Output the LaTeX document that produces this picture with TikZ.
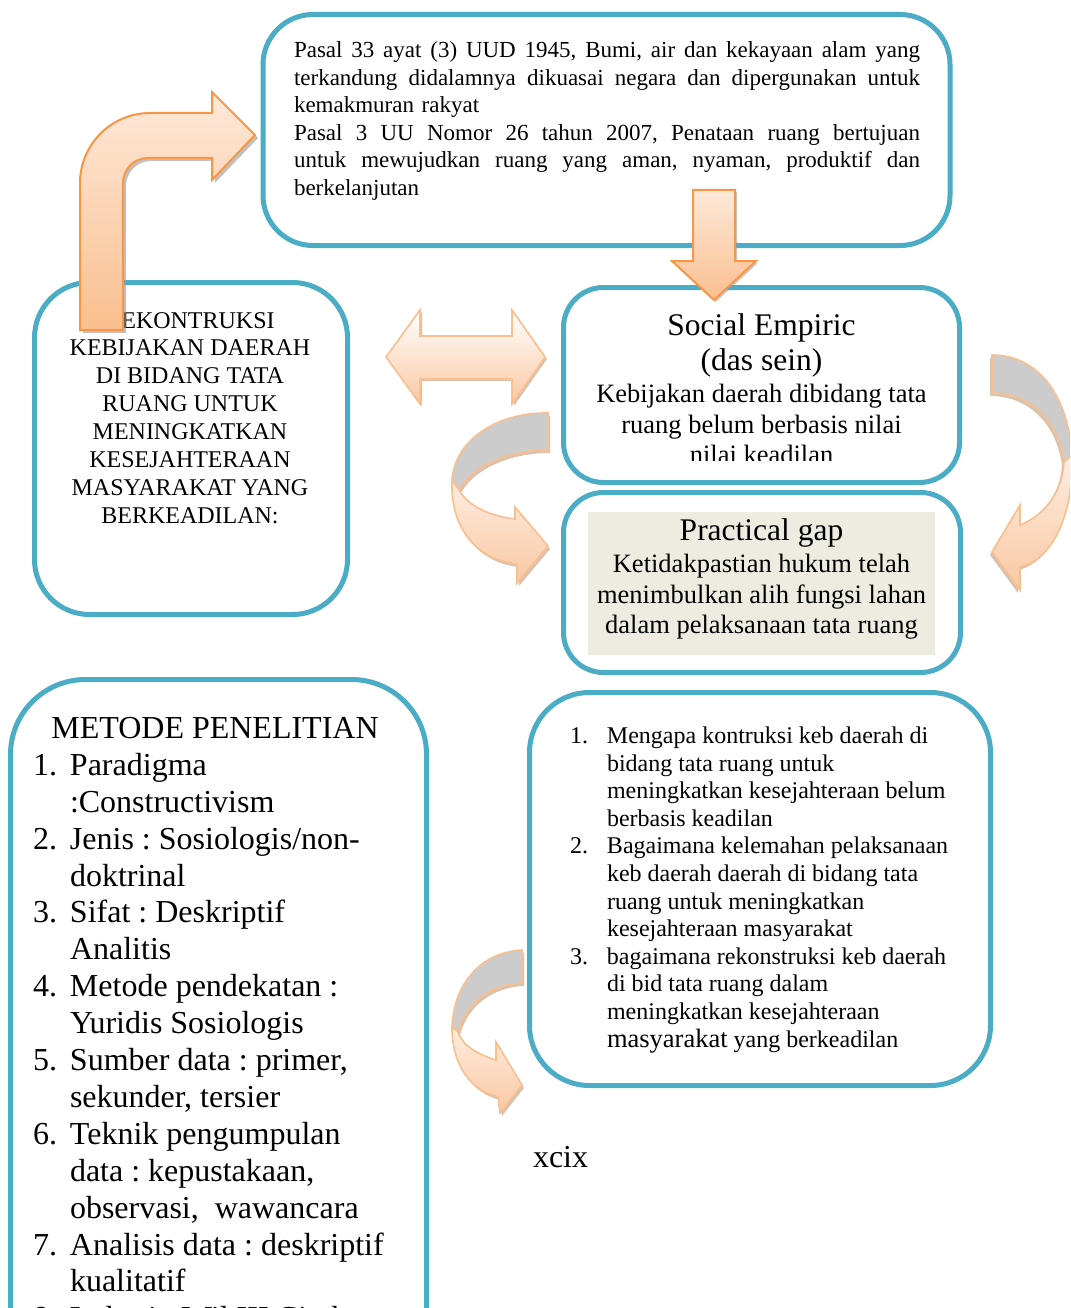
\documentclass[tikz,border=0pt]{standalone}
\usepackage{fontspec}
\setmainfont{Liberation Serif}
\definecolor{boxteal}{HTML}{4BACC6}
\definecolor{orangeline}{HTML}{F79646}
\definecolor{softline}{HTML}{F9BF8F}
\definecolor{peachtop}{HTML}{FDE9D9}
\definecolor{peachbot}{HTML}{FABF8F}
\definecolor{ribbontop}{HTML}{FDEDE1}
\definecolor{ribbonbot}{HTML}{F9C8A2}
\definecolor{ribbonback}{HTML}{CCCCCC}
\definecolor{gapfill}{HTML}{EEECE1}
\definecolor{dropshadow}{HTML}{B89070}
\newcommand\qnum[1]{\makebox[37pt][l]{#1}}
\newcommand\qind{\hspace*{37pt}}
% a justified line: every interword space stretches equally to fill the width
\newcommand\jline[2]{\makebox[#1][s]{\spaceskip=\fontdimen2\font plus 1fil\relax #2}}
\frenchspacing
\begin{document}
\frenchspacing
\begin{tikzpicture}[x=1pt,y=-1pt,
  frame/.style={draw=boxteal, line width=5pt, inner sep=0pt, outer sep=0pt},
  txt/.style={inner sep=0pt, outer sep=0pt, text=black},
  blockarrow/.style={top color=peachtop, bottom color=peachbot, draw=orangeline, line width=2pt, line join=miter},
  ribbonfront/.style={top color=ribbontop, bottom color=ribbonbot, draw=softline, line width=1.6pt, line join=miter},
  ribbonrear/.style={fill=ribbonback, draw=softline, line width=1.6pt},
  softshadow/.style={fill=dropshadow, opacity=0.55}]
\useasboundingbox (0,0) rectangle (1070,1308);
\clip (0,0) rectangle (1070,1308);
\fill[white] (0,0) rectangle (1070,1308);

% ---------- frames ----------
\node[frame, rounded corners=50pt, minimum width=687pt, minimum height=231pt] (law) at (606.5,130) {};
\node[frame, rounded corners=55pt, minimum width=313pt, minimum height=332pt] (goal) at (191,448.5) {};
\node[frame, rounded corners=40pt, minimum width=396pt, minimum height=195pt] (social) at (761.5,385) {};
\node[frame, rounded corners=40pt, minimum width=397pt, minimum height=180pt] (gap) at (762,582.5) {};
\node[fill=gapfill, inner sep=0pt, minimum width=347pt, minimum height=143pt] (gapbg) at (761.5,583.5) {};
\node[frame, rounded corners=60pt, minimum width=461pt, minimum height=393pt] (questions) at (760,889) {};
\node[frame, rounded corners=75pt, minimum width=416pt, minimum height=720pt] (method) at (218.5,1039.5) {};

% ---------- texts ----------
\node[txt, anchor=north west, text width=626pt, align=left, font=\fontsize{23}{27.5}\selectfont] (lawtext) at (294,38.75)
 {\strut\jline{626pt}{Pasal 33 ayat (3) UUD 1945, Bumi, air dan kekayaan alam yang}\\
  \jline{626pt}{terkandung didalamnya dikuasai negara dan dipergunakan untuk}\\
  kemakmuran rakyat\\
  \jline{626pt}{Pasal 3 UU Nomor 26 tahun 2007, Penataan ruang bertujuan}\\
  \jline{626pt}{untuk mewujudkan ruang yang aman, nyaman, produktif dan}\\
  berkelanjutan};

\node[txt, anchor=north, align=center, font=\fontsize{24}{27.9}\selectfont] (goaltext) at (190,308.5)
 {\strut REKONTRUKSI\\KEBIJAKAN DAERAH\\DI BIDANG TATA\\RUANG UNTUK\\MENINGKATKAN\\KESEJAHTERAAN\\MASYARAKAT YANG\\BERKEADILAN:};

\node[txt, anchor=north, align=center, font=\fontsize{31.5}{35}\selectfont] (socialtitle) at (761.5,310.5)
 {\strut Social Empiric\\(das sein)};
\begin{scope}
  \clip (565,380) rectangle (958,460.5);
  \node[txt, anchor=north, align=center, font=\fontsize{26.5}{30.5}\selectfont] (socialtext) at (761.5,381.6)
   {\strut Kebijakan daerah dibidang tata\\ruang belum berbasis nilai\\nilai keadilan};
\end{scope}

\node[txt, anchor=north, align=center, font=\fontsize{31.5}{35}\selectfont] (gaptitle) at (761.5,515.5)
 {\strut Practical gap};
\node[txt, anchor=north, align=center, font=\fontsize{26.5}{30.5}\selectfont] (gaptext) at (761.5,551.6)
 {\strut Ketidakpastian hukum telah\\menimbulkan alih fungsi lahan\\dalam pelaksanaan tata ruang};

\node[txt, anchor=north west, align=left, font=\fontsize{24}{27.6}\selectfont] (questext) at (570,724.2)
 {\strut\qnum{1.}Mengapa kontruksi keb daerah di\\
  \qind bidang tata ruang untuk\\
  \qind meningkatkan kesejahteraan belum\\
  \qind berbasis keadilan\\
  \qnum{2.}Bagaimana kelemahan pelaksanaan\\
  \qind keb daerah daerah di bidang tata\\
  \qind ruang untuk meningkatkan\\
  \qind kesejahteraan masyarakat\\
  \qnum{3.}bagaimana rekonstruksi keb daerah\\
  \qind di bid tata ruang dalam\\
  \qind meningkatkan kesejahteraan\\
  \qind{\fontsize{26.5}{27.6}\selectfont masyarakat} yang berkeadilan};

\node[txt, anchor=north, font=\fontsize{32}{37}\selectfont] (methodtitle) at (215,713)
 {\strut METODE PENELITIAN};
\node[txt, anchor=north west, align=left, font=\fontsize{32}{36.9}\selectfont] (methodtext) at (33,749.5)
 {\strut\qnum{1.}Paradigma\\
  \qind :Constructivism\\
  \qnum{2.}Jenis : Sosiologis/non-\\
  \qind doktrinal\\
  \qnum{3.}Sifat : Deskriptif\\
  \qind Analitis\\
  \qnum{4.}Metode pendekatan :\\
  \qind Yuridis Sosiologis\\
  \qnum{5.}Sumber data : primer,\\
  \qind sekunder, tersier\\
  \qnum{6.}Teknik pengumpulan\\
  \qind data : kepustakaan,\\
  \qind observasi,\ \ wawancara\\
  \qnum{7.}Analisis data : deskriptif\\
  \qind kualitatif\\
  \qnum{8.}Lokasi : Wil.III Cirebon};

\node[txt, anchor=base west, font=\fontsize{32}{37}\selectfont] (pageno) at (533,1167) {xcix};

% ---------- block arrows ----------
% bent arrow rising from the left frame into the legal basis frame
\def\bentpath{(80,330) -- (80,183) .. controls (80,144.4) and (111.4,113) .. (150,113) -- (212,113) -- (212,92) -- (255,135) -- (212,180) -- (212,158) -- (148,158) .. controls (134.2,158) and (123,169.2) .. (123,183) -- (123,330) -- cycle}
\fill[black!40, opacity=0.6, shift={(3,3)}] \bentpath;
\shade[blockarrow] \bentpath;

% downward arrow into the social empiric frame
\def\downpath{(693,190) -- (735,190) -- (735,261) -- (756,261) -- (714,300) -- (672,261) -- (693,261) -- cycle}
\fill[black!40, opacity=0.5, shift={(2,2)}] \downpath;
\shade[blockarrow] \downpath;

% two-headed arrow between the goal frame and the social empiric frame
\def\twowaypath{(386,357) -- (420,310) -- (420,336) -- (512,336) -- (512,310) -- (545,357) -- (512,404) -- (512,379) -- (420,379) -- (420,404) -- cycle}
\fill[softshadow, shift={(2,2)}] \twowaypath;
\shade[top color=white, bottom color=ribbonbot, draw=softline, line width=1.6pt, line join=miter] \twowaypath;

% curved ribbon arrow, left of the two right frames
\def\leftback{(548,413) .. controls (500,412) and (455,438) .. (452,480) -- (459,490) .. controls (472,466) and (508,450) .. (548,450) -- cycle}
\def\leftfront{(452,480) .. controls (450,530) and (478,560) .. (517,564) -- (517,583) -- (548,546) -- (515,507) -- (515,519) .. controls (490,516) and (468,506) .. (459,490) -- cycle}
\fill[softshadow, shift={(2,3)}] \leftback;
\fill[softshadow, shift={(2,3)}] \leftfront;
\fill[ribbonrear] \leftback;
\shade[ribbonfront] \leftfront;

% curved ribbon arrow at the right edge
\def\rightback{(992,355) .. controls (1038,355) and (1068,395) .. (1072,455) -- (1064,462) .. controls (1058,420) and (1030,393) .. (992,393) -- cycle}
\def\rightfront{(1072,455) .. controls (1074,515) and (1052,560) .. (1020,567) -- (1020,590) -- (992,552) -- (1020,505) -- (1020,525) .. controls (1045,515) and (1062,492) .. (1064,462) -- cycle}
\fill[softshadow, shift={(-2,3)}] \rightback;
\fill[softshadow, shift={(-2,3)}] \rightfront;
\fill[ribbonrear] \rightback;
\shade[ribbonfront] \rightfront;

% curved ribbon arrow beside the research questions frame
\def\lowback{(522,950) .. controls (482,952) and (454,982) .. (452,1027) -- (458,1032) .. controls (466,1002) and (492,984) .. (522,983) -- cycle}
\def\lowfront{(452,1027) .. controls (452,1065) and (470,1090) .. (498,1097) -- (500,1113) -- (522,1085) -- (496,1042) -- (496,1060) .. controls (480,1055) and (463,1047) .. (458,1032) -- cycle}
\fill[softshadow, shift={(2,3)}] \lowback;
\fill[softshadow, shift={(2,3)}] \lowfront;
\fill[ribbonrear] \lowback;
\shade[ribbonfront] \lowfront;
\end{tikzpicture}
\end{document}
